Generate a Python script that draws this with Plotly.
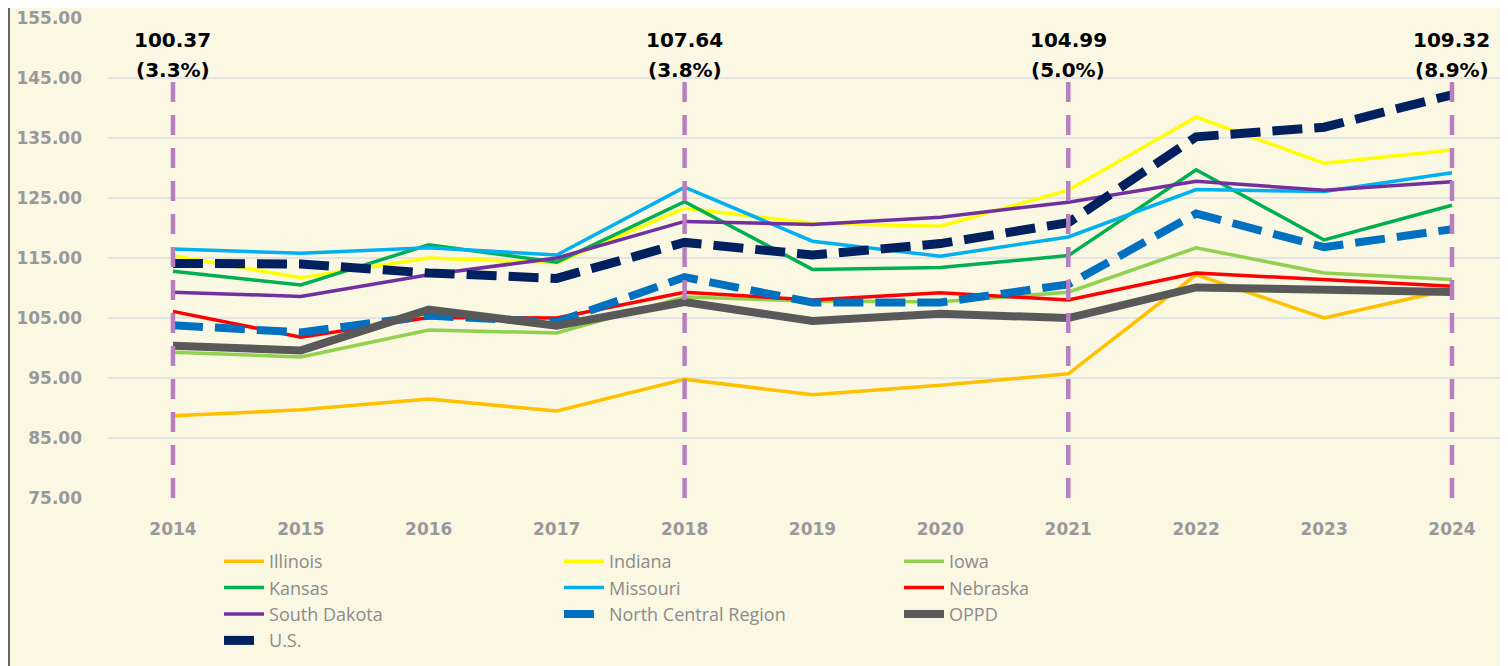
import plotly.graph_objects as go

years = [2014, 2015, 2016, 2017, 2018, 2019, 2020, 2021, 2022, 2023, 2024]

illinois = [88.7, 89.7, 91.5, 89.5, 94.8, 92.2, 93.8, 95.7, 112.2, 105.0, 109.8]
indiana = [115.4, 111.7, 115.0, 114.2, 123.3, 120.8, 120.3, 126.3, 138.5, 130.8, 133.0]
iowa = [99.3, 98.5, 103.0, 102.5, 108.5, 107.8, 107.7, 109.3, 116.7, 112.5, 111.4]
kansas = [112.8, 110.5, 117.2, 114.3, 124.4, 113.1, 113.4, 115.4, 129.7, 118.0, 123.8]
missouri = [116.5, 115.8, 116.7, 115.5, 126.8, 117.8, 115.3, 118.5, 126.4, 126.1, 129.2]
nebraska = [106.1, 101.8, 105.1, 105.0, 109.3, 108.0, 109.2, 108.0, 112.5, 111.4, 110.3]
south_dakota = [109.3, 108.6, 112.2, 115.0, 121.1, 120.6, 121.8, 124.3, 127.8, 126.3, 127.7]
north_central = [103.8, 102.6, 105.4, 104.3, 111.8, 107.6, 107.6, 110.6, 122.4, 116.8, 119.8]
oppd = [100.37, 99.6, 106.4, 103.7, 107.64, 104.5, 105.7, 104.99, 110.1, 109.6, 109.32]
us = [114.1, 114.0, 112.5, 111.6, 117.6, 115.5, 117.4, 120.9, 135.2, 136.8, 142.2]

label_years = [2014, 2018, 2021, 2024]
label_values = ["100.37", "107.64", "104.99", "109.32"]
label_pcts = ["(3.3%)", "(3.8%)", "(5.0%)", "(8.9%)"]

y_ticks = [75, 85, 95, 105, 115, 125, 135, 145, 155]

# name, values, colour, width, dash, legend column
series = [
    ("Illinois", illinois, "#FFC000", 3.5, None, "legend"),
    ("Indiana", indiana, "#FFFF00", 3.5, None, "legend2"),
    ("Iowa", iowa, "#92D050", 3.5, None, "legend3"),
    ("Kansas", kansas, "#00B050", 3.5, None, "legend"),
    ("Missouri", missouri, "#00B0F0", 3.5, None, "legend2"),
    ("Nebraska", nebraska, "#FF0000", 3.5, None, "legend3"),
    ("South Dakota", south_dakota, "#7030A0", 3.5, None, "legend"),
    ("North Central Region", north_central, "#0070C0", 8, "30px,12px", "legend2"),
    ("OPPD", oppd, "#595959", 8, None, "legend3"),
    ("U.S.", us, "#002060", 9, "30px,12px", "legend"),
]

BOLD = "DejaVu Sans, Verdana, sans-serif"

fig = go.Figure()
for name, vals, color, width, dash, lg in series:
    line = dict(color=color, width=width)
    if dash:
        line["dash"] = dash
    fig.add_trace(go.Scatter(x=years, y=vals, mode="lines", name=name, line=line, legend=lg))

top_frac = 416 / 480.0
for yr, val, pct in zip(label_years, label_values, label_pcts):
    fig.add_shape(type="line", xref="x", yref="paper", x0=yr, x1=yr, y0=0, y1=top_frac,
                  line=dict(color="#B77FC0", width=4.5, dash="20px,13px"), layer="above")
    fig.add_annotation(x=yr, xref="x", yref="paper", y=0.954, yanchor="middle",
                       text=f"<b>{val}</b>", showarrow=False,
                       font=dict(family=BOLD, size=20, color="#000000"))
    fig.add_annotation(x=yr, xref="x", yref="paper", y=0.892, yanchor="middle",
                       text=f"<b>{pct}</b>", showarrow=False,
                       font=dict(family=BOLD, size=20, color="#000000"))

# left frame border
fig.add_shape(type="line", xref="paper", yref="paper", x0=-99 / 1400, x1=-99 / 1400,
              y0=-1, y1=2, line=dict(color="#333333", width=1.5))

legend_style = dict(orientation="v", xanchor="left", y=-0.09375, yanchor="top",
                    font=dict(size=18, color="#8C8C8C", family="Open Sans, Liberation Sans, sans-serif"),
                    bgcolor="rgba(0,0,0,0)", tracegroupgap=0, itemwidth=40)

fig.update_layout(
    width=1500, height=658,
    margin=dict(l=100, r=0, t=10, b=168),
    paper_bgcolor="#FAF7E3", plot_bgcolor="#FAF7E3",
    font=dict(family="Liberation Sans, Arial, sans-serif"),
    showlegend=True,
    legend=dict(x=0.0793, **legend_style),
    legend2=dict(x=0.3221, **legend_style),
    legend3=dict(x=0.565, **legend_style),
    xaxis=dict(range=[2013.492, 2024.438], tickvals=years, ticktext=[str(y) for y in years],
               showgrid=False, zeroline=False, showline=False,
               tickfont=dict(size=17, color="#999999", family=BOLD, weight="bold"),
               ticks="", ticklabelstandoff=19),
    yaxis=dict(range=[75, 155], tickvals=y_ticks, tickformat=".2f",
               showgrid=True, gridcolor="#E4E4E4", gridwidth=1.5, zeroline=False, showline=False,
               tickfont=dict(size=17, color="#999999", family=BOLD, weight="bold"),
               ticks="", ticklabelstandoff=25, ticklabeloverflow="allow"),
)

fig.write_html("out.html")
